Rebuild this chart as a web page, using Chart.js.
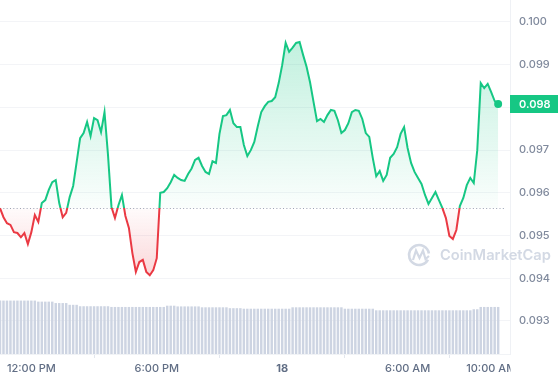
<!DOCTYPE html>
<html>
<head>
<meta charset="utf-8">
<script src="https://cdn.jsdelivr.net/npm/chart.js@4.4.1/dist/chart.umd.min.js"></script>
<style>
  html, body { margin: 0; padding: 0; background: #fff; }
  #wrap { width: 558px; height: 380px; }
</style>
</head>
<body>
<div id="wrap"><canvas id="priceChart"></canvas></div>
<script>
// Horas (desde la medianoche del día 17) y etiquetas del eje X
const startHour = 10.5;
const stepHours = 1 / 6; // un punto cada 10 minutos
const tickHours = [12, 18, 24, 30, 34];
const tickLabels = ['12:00 PM', '6:00 PM', '18', '6:00 AM', '10:00 AM'];

// Etiquetas del eje de precios
const priceTicks = [0.093, 0.094, 0.095, 0.096, 0.097, 0.098, 0.099, 0.100];

// Precio de apertura (línea punteada)
const openPrice = 0.09564;

// Precios (USD)
const prices = [
  0.09564, 0.09543, 0.09529, 0.09525, 0.09508, 0.09506, 0.09496, 0.09506, 0.09480, 0.09508,
  0.09548, 0.09532, 0.09576, 0.09583, 0.09607, 0.09625, 0.09630, 0.09576, 0.09543, 0.09553,
  0.09590, 0.09616, 0.09672, 0.09728, 0.09740, 0.09766, 0.09733, 0.09775, 0.09770, 0.09742,
  0.09789, 0.09689, 0.09567, 0.09541, 0.09571, 0.09595, 0.09546, 0.09518, 0.09459, 0.09415,
  0.09438, 0.09443, 0.09415, 0.09407, 0.09419, 0.09447, 0.09600, 0.09602, 0.09611, 0.09625,
  0.09642, 0.09635, 0.09630, 0.09628, 0.09644, 0.09657, 0.09677, 0.09682, 0.09663, 0.09649,
  0.09644, 0.09674, 0.09670, 0.09738, 0.09780, 0.09782, 0.09794, 0.09763, 0.09754, 0.09754,
  0.09712, 0.09686, 0.09700, 0.09719, 0.09756, 0.09789, 0.09803, 0.09813, 0.09815, 0.09824,
  0.09857, 0.09899, 0.09951, 0.09930, 0.09940, 0.09951, 0.09953, 0.09923, 0.09895, 0.09859,
  0.09813, 0.09768, 0.09773, 0.09766, 0.09782, 0.09794, 0.09792, 0.09770, 0.09740, 0.09747,
  0.09763, 0.09789, 0.09794, 0.09792, 0.09773, 0.09740, 0.09731, 0.09682, 0.09639, 0.09651,
  0.09628, 0.09642, 0.09682, 0.09691, 0.09707, 0.09738, 0.09754, 0.09705, 0.09670, 0.09649,
  0.09635, 0.09621, 0.09595, 0.09574, 0.09588, 0.09602, 0.09583, 0.09564, 0.09541, 0.09499,
  0.09492, 0.09513, 0.09569, 0.09588, 0.09618, 0.09635, 0.09623, 0.09700, 0.09857, 0.09845,
  0.09855, 0.09836, 0.09815, 0.09808
];

// Volumen (unidades relativas)
const volumes = [
  15.0, 15.0, 15.0, 15.0, 15.0, 15.0, 15.0, 15.0, 15.0, 15.0,
  15.0, 14.7, 14.7, 14.7, 14.7, 14.7, 14.3, 14.3, 14.3, 14.3,
  13.8, 13.8, 13.8, 13.4, 13.4, 13.4, 13.4, 13.4, 13.4, 13.4,
  13.4, 13.4, 13.2, 13.2, 13.2, 13.2, 13.2, 13.2, 13.2, 13.2,
  13.2, 13.2, 13.2, 13.2, 13.2, 13.2, 13.2, 13.2, 13.55, 13.55,
  13.55, 13.35, 13.35, 13.35, 13.35, 13.35, 13.35, 13.35, 13.1, 13.1,
  13.1, 13.1, 13.1, 13.1, 13.1, 13.1, 12.85, 12.85, 12.85, 12.85,
  12.7, 12.7, 12.7, 12.7, 12.7, 12.7, 12.7, 12.7, 12.7, 12.7,
  12.7, 12.7, 12.7, 12.7, 13.1, 13.1, 13.1, 13.1, 13.1, 13.1,
  13.1, 13.1, 13.1, 13.1, 13.1, 13.1, 13.1, 13.1, 13.1, 12.7,
  12.7, 12.7, 12.7, 12.7, 12.7, 12.7, 12.7, 12.7, 12.25, 12.25,
  12.25, 12.25, 12.25, 12.25, 12.25, 12.25, 12.25, 12.25, 12.25, 12.25,
  12.25, 12.25, 12.25, 12.25, 12.25, 12.25, 12.25, 12.25, 12.25, 12.25,
  12.25, 12.25, 12.25, 12.25, 12.25, 12.25, 12.55, 12.55, 13.2, 13.2,
  13.2, 13.2, 13.2, 13.2
];

const green = '#16c784';
const red = '#ea3943';

// Degradado vertical con corte en el precio de apertura
function gradienteLinea(chart) {
  const area = chart.chartArea;
  if (!area) return green;
  const yb = chart.scales.y.getPixelForValue(openPrice);
  const f = (yb - area.top) / (area.bottom - area.top);
  const g = chart.ctx.createLinearGradient(0, area.top, 0, area.bottom);
  g.addColorStop(0, green);
  g.addColorStop(f, green);
  g.addColorStop(f, red);
  g.addColorStop(1, red);
  return g;
}

function gradienteRelleno(chart) {
  const area = chart.chartArea;
  if (!area) return 'rgba(22,199,132,0.1)';
  const y = chart.scales.y;
  const h = area.bottom - area.top;
  const f = (y.getPixelForValue(openPrice) - area.top) / h;
  const fTop = (y.getPixelForValue(0.0998) - area.top) / h;
  const fLow = (y.getPixelForValue(0.0941) - area.top) / h;
  const g = chart.ctx.createLinearGradient(0, area.top, 0, area.bottom);
  g.addColorStop(0, 'rgba(22,199,132,0.30)');
  g.addColorStop(fTop, 'rgba(22,199,132,0.28)');
  g.addColorStop(f, 'rgba(22,199,132,0.02)');
  g.addColorStop(f, 'rgba(234,57,67,0.02)');
  g.addColorStop(fLow, 'rgba(234,57,67,0.20)');
  g.addColorStop(1, 'rgba(234,57,67,0.20)');
  return g;
}

// Sin márgenes extra de las etiquetas
function sinPadding(s) {
  s.paddingTop = 0;
  s.paddingBottom = 0;
  s.paddingLeft = 0;
  s.paddingRight = 0;
}

// Línea punteada, marca de agua y etiqueta del precio actual
const extras = {
  id: 'extras',
  beforeDatasetsDraw(chart) {
    const { ctx, chartArea, scales } = chart;
    const yb = Math.round(scales.y.getPixelForValue(openPrice)) + 0.5;
    ctx.save();
    ctx.strokeStyle = '#9aa3b4';
    ctx.lineWidth = 1;
    ctx.setLineDash([1, 2.33]);
    ctx.beginPath();
    ctx.moveTo(chartArea.left, yb);
    ctx.lineTo(chartArea.right - 4, yb);
    ctx.stroke();
    ctx.setLineDash([]);

    // marca de agua
    const wc = '#d3d9e4';
    ctx.strokeStyle = wc;
    ctx.lineWidth = 2.6;
    ctx.beginPath();
    ctx.arc(419, 255, 10, 0.15 * Math.PI, 1.95 * Math.PI);
    ctx.stroke();
    ctx.lineWidth = 2.2;
    ctx.beginPath();
    ctx.moveTo(413, 260);
    ctx.lineTo(416, 250.5);
    ctx.lineTo(419.5, 258);
    ctx.lineTo(423, 250.5);
    ctx.lineTo(425.5, 259);
    ctx.lineTo(429, 256);
    ctx.stroke();
    ctx.fillStyle = wc;
    ctx.font = '600 14.7px Inter';
    ctx.textBaseline = 'middle';
    ctx.fillText('CoinMarketCap', 440, 256);
    ctx.restore();
  },
  afterDraw(chart) {
    const { ctx, chartArea, scales } = chart;
    ctx.save();
    // recorte de la última etiqueta del eje X
    ctx.fillStyle = '#fff';
    ctx.fillRect(chartArea.right + 0.5, chartArea.bottom + 1, chart.width - chartArea.right, chart.height - chartArea.bottom);
    // etiqueta del precio actual
    const last = prices[prices.length - 1];
    const yp = scales.y.getPixelForValue(last);
    ctx.fillStyle = green;
    ctx.fillRect(chartArea.right, Math.round(yp) - 9, chart.width - chartArea.right, 18);
    ctx.fillStyle = '#fff';
    ctx.font = '600 11px Inter';
    ctx.textBaseline = 'middle';
    ctx.fillText(last.toFixed(3), chartArea.right + 9, Math.round(yp) + 0.5);
    ctx.restore();
  }
};

function crearGrafico() {
  Chart.defaults.font.family = 'Inter';
  const puntos = prices.map((p, i) => ({ x: startHour + i * stepHours, y: p }));
  const barras = volumes.map((v, i) => ({ x: startHour + i * stepHours, y: v }));
  const ultimo = prices.length - 1;

  const ctx = document.getElementById('priceChart').getContext('2d');
  new Chart(ctx, {
    type: 'line',
    data: {
      datasets: [
        {
          label: 'Precio',
          data: puntos,
          yAxisID: 'y',
          order: 0,
          borderWidth: 2,
          borderColor: (c) => gradienteLinea(c.chart),
          backgroundColor: (c) => gradienteRelleno(c.chart),
          fill: { target: { value: openPrice } },
          tension: 0,
          pointRadius: (c) => (c.dataIndex === ultimo ? 4 : 0),
          pointBackgroundColor: green,
          pointBorderWidth: 0,
          pointHoverRadius: 0
        },
        {
          type: 'bar',
          label: 'Volumen',
          data: barras,
          yAxisID: 'yv',
          order: 1,
          backgroundColor: '#cdd4e2',
          barThickness: 1.8,
          borderWidth: 0
        }
      ]
    },
    options: {
      responsive: true,
      maintainAspectRatio: false,
      animation: false,
      layout: { padding: 0, autoPadding: false },
      plugins: {
        legend: { display: false },
        tooltip: { enabled: false }
      },
      scales: {
        x: {
          type: 'linear',
          min: 10.5,
          max: 34.9,
          offset: false,
          afterBuildTicks: (s) => { s.ticks = tickHours.map(v => ({ value: v })); },
          afterFit: (s) => { s.height = 26; sinPadding(s); },
          grid: { drawOnChartArea: false, drawTicks: true, tickLength: 4, color: '#e3e7ee' },
          border: { display: true, color: '#f1f3f6' },
          ticks: {
            autoSkip: false,
            maxRotation: 0,
            padding: 4,
            color: '#616e85',
            font: (c) => ({ size: 11, weight: c.tick && c.tick.value === 24 ? 'bold' : '500' }),
            callback: (v, i) => tickLabels[i]
          }
        },
        y: {
          position: 'right',
          min: 0.092227,
          max: 0.100515,
          afterBuildTicks: (s) => { s.ticks = priceTicks.map(v => ({ value: v })); },
          afterFit: (s) => { s.width = 48; sinPadding(s); },
          grid: { color: '#f3f4f7', drawTicks: false },
          border: { display: true, color: '#eff1f5' },
          ticks: {
            padding: 9,
            color: '#808a9d',
            font: { size: 11, weight: '500' },
            callback: (v) => v.toFixed(3)
          }
        },
        yv: {
          display: false,
          min: 0,
          max: 100
        }
      }
    },
    plugins: [extras]
  });
}

document.addEventListener('DOMContentLoaded', () => {
  crearGrafico();
});
</script>
</body>
</html>
